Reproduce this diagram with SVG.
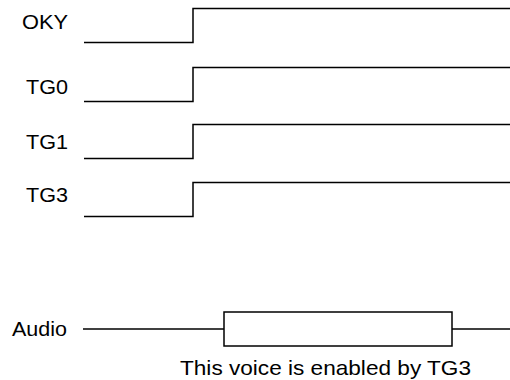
<svg xmlns="http://www.w3.org/2000/svg" width="510" height="380" viewBox="0 0 510 380">
<style>
.lbl{font-family:"Liberation Sans",Arial,sans-serif;font-size:21px;fill:#000}
.w{fill:none;stroke:#000;stroke-width:1.5}
</style>
<rect width="510" height="380" fill="#fff"/>
<g id="OKY"><text class="lbl" x="22" y="29" textLength="46" lengthAdjust="spacingAndGlyphs">OKY</text></g>
<g id="TG0"><text class="lbl" x="26" y="94" textLength="42" lengthAdjust="spacingAndGlyphs">TG0</text></g>
<g id="TG1"><text class="lbl" x="26" y="149" textLength="42" lengthAdjust="spacingAndGlyphs">TG1</text></g>
<g id="TG3"><text class="lbl" x="26" y="202" textLength="42" lengthAdjust="spacingAndGlyphs">TG3</text></g>
<g id="Audio"><text class="lbl" x="12" y="336" textLength="55" lengthAdjust="spacingAndGlyphs">Audio</text></g>
<g id="caption"><text class="lbl" x="180" y="375" textLength="291" lengthAdjust="spacingAndGlyphs">This voice is enabled by TG3</text></g>
<g id="connectors">
<polyline class="w" points="84,42.5 193,42.5 193,8.5 510,8.5"/>
<polyline class="w" points="84,101.5 193,101.5 193,67.5 510,67.5"/>
<polyline class="w" points="84,158.5 193,158.5 193,124.5 510,124.5"/>
<polyline class="w" points="84,216.5 193,216.5 193,182.5 510,182.5"/>
<line class="w" x1="83" y1="329" x2="224" y2="329"/>
<rect class="w" x="224" y="312" width="228" height="34"/>
<line class="w" x1="452" y1="329" x2="510" y2="329"/>
</g>
</svg>
